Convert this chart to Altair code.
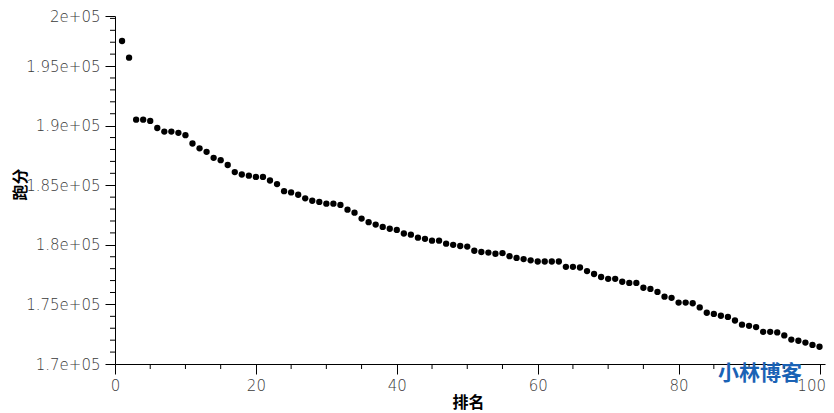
import altair as alt
import pandas as pd

# ---- data ----
rank = list(range(1, 101))
score = [
    197100, 195700, 190500, 190500, 190400, 189800, 189500, 189500, 189400, 189200,
    188500, 188100, 187800, 187300, 187100, 186700, 186100, 185900, 185800, 185700,
    185700, 185400, 185100, 184500, 184400, 184200, 183900, 183700, 183600, 183450,
    183450, 183350, 182950, 182700, 182200, 181900, 181700, 181500, 181350, 181250,
    180950, 180850, 180600, 180500, 180350, 180350, 180100, 180000, 179900, 179850,
    179500, 179400, 179350, 179250, 179300, 179050, 178900, 178800, 178700, 178600,
    178600, 178600, 178600, 178150, 178150, 178100, 177800, 177550, 177300, 177150,
    177150, 176900, 176800, 176800, 176400, 176300, 176050, 175650, 175550, 175150,
    175150, 175100, 174750, 174300, 174200, 174050, 173950, 173650, 173300, 173200,
    173100, 172700, 172700, 172650, 172400, 172050, 171950, 171800, 171600, 171450,
]

x_ticks = [0, 20, 40, 60, 80, 100]
x_minor = [5, 10, 15, 25, 30, 35, 45, 50, 55, 65, 70, 75, 85, 90, 95]
y_domain = [170000, 199200]
y_ticks = [170000, 175000, 180000, 185000, 190000, 195000, 199200]
y_tick_labels = ["1.7e+05", "1.75e+05", "1.8e+05", "1.85e+05", "1.9e+05", "1.95e+05", "2e+05"]
y_minor = [v for v in range(171000, 200000, 1000) if v % 5000 != 0]
x_title = "排名"
y_title = "跑分"
watermark = ["小林博客"]

# ---- tables ----
df = pd.DataFrame({"rank": rank, "score": score})
df_xminor = pd.DataFrame({"v": x_minor})
df_yminor = pd.DataFrame({"v": y_minor})
df_wm = pd.DataFrame({"t": watermark})

W, H = 710, 348
label_font = "DejaVu Sans"
label_color = "#3a3a3a"

y_label_expr = " : ".join(
    [f"datum.value == {v} ? '{l}'" for v, l in zip(y_ticks, y_tick_labels)] + ["''"]
)
last_x = x_ticks[-1]

x_scale = alt.Scale(domain=[0, 100.78], nice=False, zero=False)
y_scale = alt.Scale(domain=y_domain, nice=False, zero=False)

points = alt.Chart(df).mark_circle(size=40, color="black", opacity=1).encode(
    x=alt.X(
        "rank:Q", scale=x_scale,
        axis=alt.Axis(
            values=x_ticks, format="d", grid=False, domainColor="black", domainWidth=1,
            tickColor="black", tickSize=10, tickWidth=1, labelPadding=4,
            labelFont=label_font, labelFontSize=15, labelFontWeight=300,
            labelColor=label_color, labelOverlap=False, labelFlush=False,
            labelAlign={"condition": {"test": f"datum.value == {last_x}", "value": "right"},
                        "value": "center"},
            labelOffset={"condition": {"test": f"datum.value == {last_x}", "value": 6},
                         "value": 0},
            title=x_title, titleFont="Noto Sans CJK SC", titleFontSize=16,
            titleFontWeight="bold", titleColor="black",
            titleX=353, titleY=38, titleAnchor="middle", titleBaseline="middle",
            titleAlign="center", orient="bottom",
        ),
    ),
    y=alt.Y(
        "score:Q", scale=y_scale,
        axis=alt.Axis(
            values=y_ticks, labelExpr=y_label_expr, grid=False, domainColor="black",
            domainWidth=1, tickColor="black", tickSize=10, tickWidth=1, labelPadding=5,
            labelFont=label_font, labelFontSize=15, labelFontWeight=300,
            labelColor=label_color, labelOverlap=False, labelFlush=False,
            title=y_title, titleFont="Noto Sans CJK SC", titleFontSize=16,
            titleFontWeight="bold", titleColor="black", titleAngle=270,
            titleX=-95, titleY=168, titleAlign="center", titleBaseline="middle",
            orient="left",
        ),
    ),
)

x_minor_ticks = alt.Chart(df_xminor).mark_rule(color="black", strokeWidth=1).encode(
    x=alt.X("v:Q", scale=x_scale, axis=None),
    y=alt.value(H),
    y2=alt.value(H + 5),
)

y_minor_ticks = alt.Chart(df_yminor).mark_rule(color="black", strokeWidth=1).encode(
    y=alt.Y("v:Q", scale=y_scale, axis=None),
    x=alt.value(-5),
    x2=alt.value(0),
)

wm = alt.Chart(df_wm).mark_text(
    font="Noto Sans CJK SC", fontSize=21, fontWeight="bold", color="#1a62b5",
    align="center", baseline="middle",
).encode(
    text="t:N",
    x=alt.value(645),
    y=alt.value(358),
)

chart = alt.layer(points, x_minor_ticks, y_minor_ticks, wm).resolve_axis(
    x="independent", y="independent"
).properties(
    width=W, height=H,
    autosize=alt.AutoSizeParams(type="none"),
    padding={"left": 107, "top": 8, "right": 1, "bottom": 49},
    background="white",
).configure_view(stroke=None)

chart.save("out.html", embed_options={"renderer": "svg", "actions": False})
